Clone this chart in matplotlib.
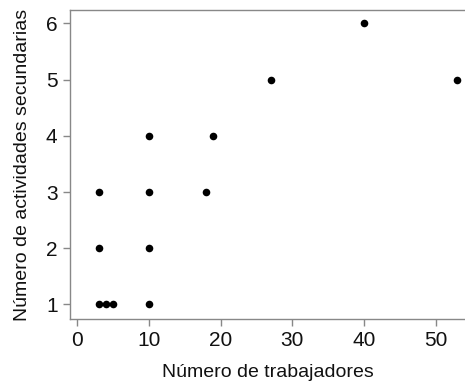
import matplotlib
matplotlib.use("Agg")
import matplotlib.pyplot as plt
from matplotlib import font_manager

trabajadores = [3, 4, 5, 3, 3, 10, 10, 10, 10, 18, 19, 27, 40, 53]
actividades = [1, 1, 1, 2, 3, 1, 2, 3, 4, 3, 4, 5, 6, 5]
xticks = [0, 10, 20, 30, 40, 50]
yticks = [1, 2, 3, 4, 5, 6]

names = {f.name for f in font_manager.fontManager.ttflist}
fam = ['Liberation Sans Narrow', 'Liberation Sans', 'DejaVu Sans']
fam = [f for f in fam if f in names] + ['DejaVu Sans']
plt.rcParams['font.family'] = fam

fig = plt.figure(figsize=(4.65, 3.86), dpi=100)
ax = fig.add_axes([70/465, 67/386, 1 - 70/465, (319-10)/386])
ax.scatter(trabajadores, actividades, s=30, color='black', zorder=3, linewidths=0)
ax.set_xlim(-1.0, 54.1)
ax.set_ylim(0.74, 6.24)
ax.set_xticks(xticks)
ax.set_yticks(yticks)
for side in ['left', 'bottom', 'top']:
    ax.spines[side].set_color('#888888')
    ax.spines[side].set_linewidth(1.0)
ax.spines['right'].set_visible(False)
ax.tick_params(axis='both', direction='out', length=5, width=1, color='#888888',
               labelsize=15, labelcolor='#111111', pad=4)
ax.set_xlabel('Número de trabajadores', fontsize=14, color='#111111', labelpad=10)
ax.set_ylabel('Número de actividades secundarias', fontsize=14, color='#111111', labelpad=11)
fig.savefig('out.png', dpi=100)
